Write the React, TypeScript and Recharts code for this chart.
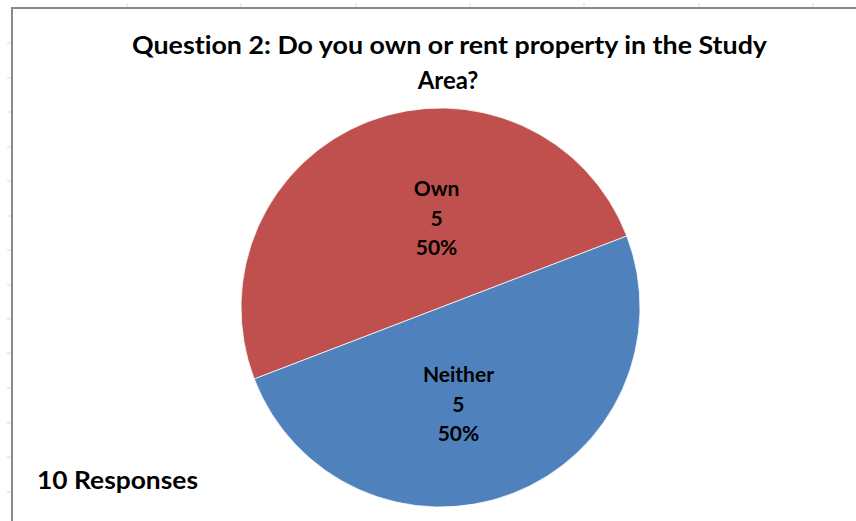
import React from "react";
import { PieChart, Pie, Cell, Customized } from "recharts";

const categories = ["Own", "Neither"];
const counts = [5, 5];
const sliceColors = ["#C0504D", "#4F81BD"];
const titleLines = ["Question 2: Do you own or rent property in the Study", "Area?"];
const footnote = "10 Responses";

const total = counts.reduce((a, b) => a + b, 0);
const data = categories.map((name, i) => ({ name, value: counts[i] }));

const FONT = "Lato, 'Open Sans', sans-serif";
const noLig = { fontVariantLigatures: "none" as const, fontFeatureSettings: "'liga' 0, 'clig' 0" };

// per-slice label placement relative to pie centre, as fractions of radius
const labelOffsets = [
  { dx: -0.02, dy: -0.56 },
  { dx: 0.09, dy: 0.375 },
];

const renderLabel = (props: any) => {
  const { cx, cy, outerRadius, index, name, value } = props;
  const off = labelOffsets[index] || { dx: 0, dy: 0 };
  const x = cx + off.dx * outerRadius;
  const y = cy + off.dy * outerRadius;
  const pct = Math.round((value / total) * 100) + "%";
  return (
    <text
      x={x}
      y={y}
      textAnchor="middle"
      fontFamily={FONT}
      fontWeight={700}
      fontSize={21}
      fill="#000"
      style={noLig}
    >
      <tspan x={x} dy={0}>{name}</tspan>
      <tspan x={x} dy={30}>{value}</tspan>
      <tspan x={x} dy={29}>{pct}</tspan>
    </text>
  );
};

const leftTicks = [43, 78, 112, 147, 181, 216, 250, 285, 319, 353, 388, 423, 457, 492];
const topTicks = [127, 241, 356, 470, 584, 699, 813];

const Frame = () => (
  <g>
    {leftTicks.map((y) => (
      <line key={"l" + y} x1={7} x2={11} y1={y} y2={y} stroke="#d9d9d9" strokeWidth={1} />
    ))}
    {topTicks.map((x) => (
      <line key={"t" + x} x1={x} x2={x} y1={3} y2={7} stroke="#d9d9d9" strokeWidth={1} />
    ))}
    <line x1={12} x2={12} y1={7} y2={521} stroke="#8a8a8a" strokeWidth={2} />
    <line x1={11} x2={856} y1={8} y2={8} stroke="#8a8a8a" strokeWidth={2} />
    <text x={449.5} y={54} textAnchor="middle" fontFamily={FONT} fontWeight={700} fontSize={24} fill="#000" textLength={635} lengthAdjust="spacingAndGlyphs" style={noLig}>
      {titleLines[0]}
    </text>
    <text x={448} y={88.5} textAnchor="middle" fontFamily={FONT} fontWeight={700} fontSize={24} fill="#000" style={noLig}>
      {titleLines[1]}
    </text>
    <text x={37} y={488.5} textAnchor="start" fontFamily={FONT} fontWeight={700} fontSize={24} fill="#000" textLength={161} lengthAdjust="spacingAndGlyphs" style={noLig}>
      {footnote}
    </text>
  </g>
);

export default function App() {
  return (
    <div style={{ position: "absolute", left: 0, top: 0, width: 856, height: 521, background: "#fff" }}>
      <PieChart width={856} height={521} margin={{ top: 0, right: 0, bottom: 0, left: 0 }}>
        <Customized component={Frame} />
        <Pie
          data={data}
          dataKey="value"
          nameKey="name"
          cx={440.5}
          cy={307.5}
          outerRadius={199.5}
          startAngle={21}
          endAngle={381}
          stroke="#ffffff"
          strokeWidth={0.75}
          isAnimationActive={false}
          labelLine={false}
          label={renderLabel}
        >
          {data.map((d, i) => (
            <Cell key={d.name} fill={sliceColors[i]} />
          ))}
        </Pie>
      </PieChart>
    </div>
  );
}
